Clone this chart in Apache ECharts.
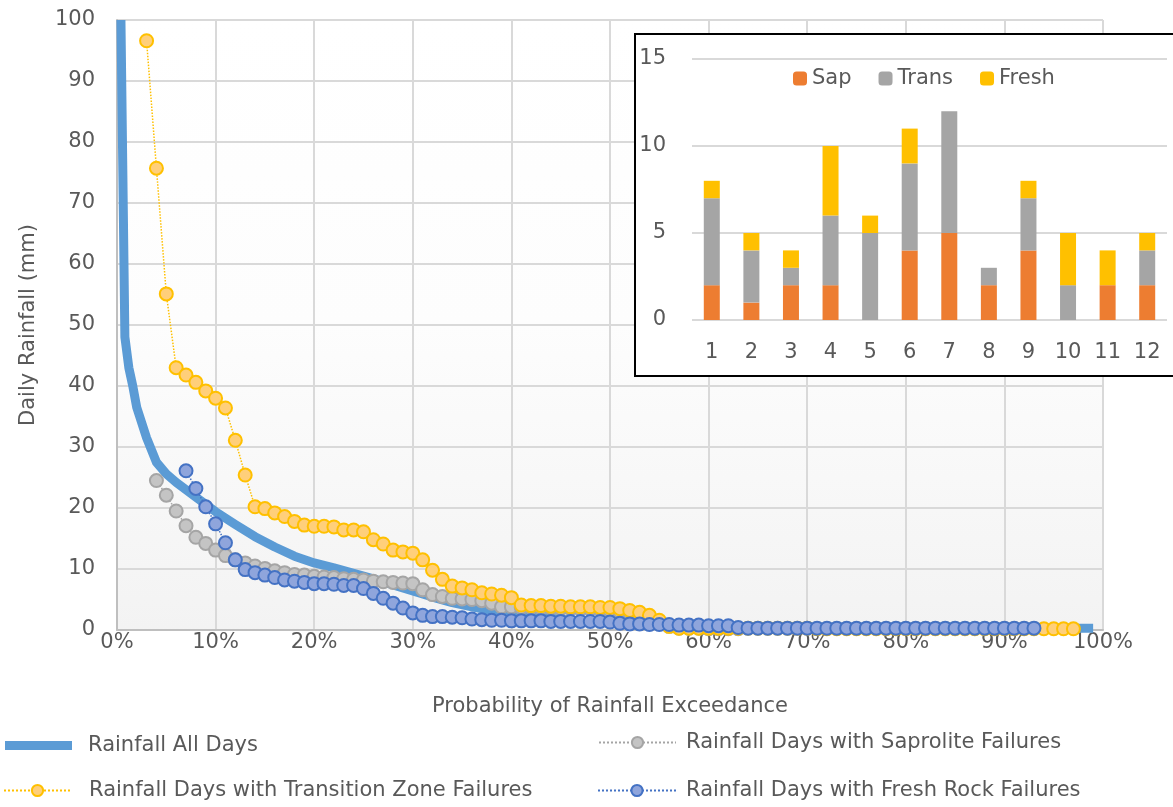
<!DOCTYPE html>
<html>
<head>
<meta charset="utf-8">
<title>Rainfall Exceedance</title>
<script src="https://cdn.jsdelivr.net/npm/echarts@6/dist/echarts.min.js"></script>
<style>
  body { margin: 0; background: #fff; }
  #chart { width: 1173px; height: 807px; }
</style>
</head>
<body>
<div id="chart"></div>
<script>
// all days: probability (%) and rainfall (mm)
var allProb = [0.4, 0.8, 1.2, 1.6, 2, 3, 4, 5, 6, 8, 10, 12, 14, 16, 18, 20, 22, 24, 26, 28, 30, 32, 34, 36, 38, 40, 43, 46, 50, 54, 58, 62, 66, 70, 80, 90, 99];
var allRain = [100, 48, 43, 40, 36.5, 31.5, 27.5, 25.6, 24.2, 21.8, 19.4, 17.3, 15.3, 13.6, 12.1, 11.0, 10.2, 9.3, 8.4, 7.4, 6.4, 5.4, 4.5, 3.8, 3.2, 2.7, 2.1, 1.6, 1.2, 0.8, 0.5, 0.4, 0.3, 0.3, 0.3, 0.3, 0.3];

// saprolite failure days
var sapProb = [4, 5, 6, 7, 8, 9, 10, 11, 12, 13, 14, 15, 16, 17, 18, 19, 20, 21, 22, 23, 24, 25, 26, 27, 28, 29, 30, 31, 32, 33,
  34, 35, 36, 37, 38, 39, 40, 41, 42, 43, 44, 45, 46, 47, 48, 49, 50, 51, 52, 53, 54, 55, 56, 57, 58, 59, 60, 61, 62, 63];
var sapRain = [24.5, 22.1, 19.5, 17.1, 15.2, 14.2, 13.1, 12.2, 11.5, 11.0, 10.5, 10.1, 9.7, 9.4, 9.1, 9.0, 8.8, 8.7, 8.6, 8.4,
  8.3, 8.2, 8.0, 7.9, 7.8, 7.7, 7.6, 6.6, 5.8, 5.5, 5.2, 5.1, 5.0, 4.8, 4.4, 3.8, 3.8, 3.7, 3.7, 3.6, 3.6, 3.5, 3.5, 3.4, 3.4, 3.3,
  3.2, 3.0, 2.8, 2.5, 2.0, 1.2, 0.6, 0.3, 0.3, 0.3, 0.2, 0.2, 0.2, 0.2];

// transition zone failure days
var transProb = [3, 4, 5, 6, 7, 8, 9, 10, 11, 12, 13, 14, 15, 16, 17, 18, 19, 20, 21, 22, 23, 24, 25, 26, 27, 28, 29, 30, 31, 32,
  33, 34, 35, 36, 37, 38, 39, 40, 41, 42, 43, 44, 45, 46, 47, 48, 49, 50, 51, 52, 53, 54, 55, 56, 57, 58, 59, 60, 61, 62,
  63, 64, 65, 66, 67, 68, 69, 70, 71, 72, 73, 74, 75, 76, 77, 78, 79, 80, 81, 82, 83, 84, 85, 86, 87, 88, 89, 90, 91, 92,
  93, 94, 95, 96, 97];
var transRain = [96.6, 75.7, 55.1, 43.0, 41.8, 40.6, 39.2, 38.0, 36.4, 31.1, 25.4, 20.2, 19.9, 19.2, 18.6, 17.8, 17.2, 17.0, 17.0, 16.9,
  16.4, 16.4, 16.1, 14.8, 14.1, 13.1, 12.8, 12.6, 11.5, 9.8, 8.3, 7.2, 6.9, 6.6, 6.1, 5.9, 5.7, 5.3, 4.1, 4.0,
  4.0, 3.9, 3.9, 3.8, 3.8, 3.8, 3.7, 3.7, 3.5, 3.2, 2.9, 2.4, 1.6, 0.6, 0.3, 0.3, 0.3, 0.3, 0.3, 0.3,
  0.3, 0.3, 0.3, 0.3, 0.3, 0.3, 0.3, 0.3, 0.2, 0.2, 0.2, 0.2, 0.2, 0.2, 0.2, 0.2, 0.2, 0.2, 0.2, 0.2,
  0.2, 0.2, 0.2, 0.2, 0.2, 0.2, 0.2, 0.2, 0.2, 0.2, 0.2, 0.2, 0.2, 0.2, 0.2];

// fresh rock failure days
var freshProb = [7, 8, 9, 10, 11, 12, 13, 14, 15, 16, 17, 18, 19, 20, 21, 22, 23, 24, 25, 26, 27, 28, 29, 30, 31, 32, 33, 34, 35, 36,
  37, 38, 39, 40, 41, 42, 43, 44, 45, 46, 47, 48, 49, 50, 51, 52, 53, 54, 55, 56, 57, 58, 59, 60, 61, 62, 63, 64, 65, 66,
  67, 68, 69, 70, 71, 72, 73, 74, 75, 76, 77, 78, 79, 80, 81, 82, 83, 84, 85, 86, 87, 88, 89, 90, 91, 92, 93];
var freshRain = [26.1, 23.2, 20.2, 17.4, 14.3, 11.5, 9.9, 9.4, 9.0, 8.6, 8.2, 8.0, 7.8, 7.6, 7.6, 7.5, 7.3, 7.3, 6.8, 6.0,
  5.2, 4.4, 3.6, 2.8, 2.4, 2.2, 2.2, 2.1, 2.0, 1.8, 1.7, 1.6, 1.6, 1.5, 1.5, 1.5, 1.5, 1.4, 1.4, 1.4,
  1.4, 1.4, 1.4, 1.3, 1.1, 1.0, 1.0, 0.9, 0.9, 0.9, 0.8, 0.8, 0.8, 0.7, 0.7, 0.7, 0.4, 0.3, 0.3, 0.3,
  0.3, 0.3, 0.3, 0.3, 0.3, 0.3, 0.3, 0.3, 0.3, 0.3, 0.3, 0.3, 0.3, 0.3, 0.3, 0.3, 0.3, 0.3, 0.3, 0.3,
  0.3, 0.3, 0.3, 0.3, 0.3, 0.3, 0.3];

// inset: failures per month
var months = ['1', '2', '3', '4', '5', '6', '7', '8', '9', '10', '11', '12'];
var sapCount = [2, 1, 2, 2, 0, 4, 5, 2, 4, 0, 2, 2];
var transCount = [5, 3, 1, 4, 5, 5, 7, 1, 3, 2, 0, 2];
var freshCount = [1, 1, 1, 4, 1, 2, 0, 0, 1, 3, 2, 1];

function pairs(xs, ys) {
    return xs.map(function (x, i) { return [x, ys[i]]; });
}

var font = 'DejaVu Sans';
var fs = 21;
var grey = '#595959';

var myChart = echarts.init(document.getElementById('chart'));

function dotSeries(name, xs, ys, line, fill, border) {
    return {
        name: name,
        type: 'line',
        xAxisIndex: 0, yAxisIndex: 0,
        data: pairs(xs, ys),
        symbol: 'circle',
        symbolSize: 13,
        showSymbol: true,
        lineStyle: { color: line, width: 1.5, type: 'dotted' },
        itemStyle: { color: fill, borderColor: border, borderWidth: 2 },
        emphasis: { disabled: true },
        z: 2
    };
}

function legendFor(name, left, top, width, pad) {
    return {
        data: [name],
        left: left, top: top,
        padding: 0,
        itemWidth: width, itemHeight: 14,
        textStyle: { fontFamily: font, fontSize: fs, color: grey, padding: [0, 0, 0, pad] }
    };
}

// 全天降雨图例用粗条
var allLegend = legendFor('Rainfall All Days', 5, 735, 67, 11);
allLegend.icon = 'rect';
allLegend.itemHeight = 9;

myChart.setOption({
    animation: false,
    textStyle: { fontFamily: font },
    grid: [
        {
            left: 117, top: 20, width: 986, height: 610,
            show: true, borderWidth: 0,
            backgroundColor: new echarts.graphic.LinearGradient(0, 0, 0, 1, [
                { offset: 0, color: '#ffffff' },
                { offset: 0.5, color: '#fdfdfd' },
                { offset: 1, color: '#f3f3f3' }
            ])
        },
        { left: 692, top: 59, width: 475, height: 261 }
    ],
    graphic: [{
        type: 'rect',
        z: 10,
        shape: { x: 635, y: 34, width: 560, height: 342 },
        style: { fill: '#ffffff', stroke: '#000000', lineWidth: 2 }
    }],
    legend: [
        allLegend,
        legendFor('Rainfall Days with Saprolite Failures', 598, 732, 77, 5),
        legendFor('Rainfall Days with Transition Zone Failures', 3, 780, 67, 13),
        legendFor('Rainfall Days with Fresh Rock Failures', 597, 780, 78, 5),
        {
            data: ['Sap', 'Trans', 'Fresh'],
            left: 793, top: 68, padding: 0, z: 20,
            itemWidth: 14, itemHeight: 14, itemGap: 27,
            textStyle: { fontFamily: font, fontSize: fs, color: grey }
        }
    ],
    xAxis: [
        {
            type: 'value', gridIndex: 0,
            min: 0, max: 100, interval: 10,
            name: 'Probability of Rainfall Exceedance',
            nameLocation: 'middle', nameGap: 66,
            nameTextStyle: { fontFamily: font, fontSize: fs, color: grey },
            axisLine: { show: true, lineStyle: { color: '#bfbfbf', width: 2 } },
            axisTick: { show: false },
            axisLabel: { formatter: '{value}%', fontFamily: font, fontSize: fs, color: grey, margin: 2 },
            splitLine: { show: true, lineStyle: { color: '#d9d9d9', width: 2 } }
        },
        {
            type: 'category', gridIndex: 1, z: 15,
            data: months,
            axisLine: { show: false },
            axisTick: { show: false },
            axisLabel: { fontFamily: font, fontSize: fs, color: grey, margin: 22 }
        }
    ],
    yAxis: [
        {
            type: 'value', gridIndex: 0,
            min: 0, max: 100, interval: 10,
            name: 'Daily Rainfall (mm)',
            nameLocation: 'middle', nameGap: 78,
            nameTextStyle: { fontFamily: font, fontSize: fs, color: grey },
            axisLine: { show: true, lineStyle: { color: '#bfbfbf', width: 2 } },
            axisTick: { show: false },
            axisLabel: { fontFamily: font, fontSize: fs, color: grey, margin: 22 },
            splitLine: { show: true, lineStyle: { color: '#d9d9d9', width: 2 } }
        },
        {
            type: 'value', gridIndex: 1, z: 15,
            min: 0, max: 15, interval: 5,
            axisLine: { show: false },
            axisTick: { show: false },
            axisLabel: { fontFamily: font, fontSize: fs, color: grey, margin: 26 },
            splitLine: { show: true, lineStyle: { color: '#d9d9d9', width: 2 } }
        }
    ],
    series: [
        {
            name: 'Rainfall All Days',
            type: 'line',
            data: pairs(allProb, allRain),
            symbol: 'none',
            lineStyle: { color: '#5b9bd5', width: 9, join: 'round' },
            itemStyle: { color: '#5b9bd5' },
            emphasis: { disabled: true },
            z: 2
        },
        dotSeries('Rainfall Days with Saprolite Failures', sapProb, sapRain, '#a5a5a5', '#c4c4c4', '#a5a5a5'),
        dotSeries('Rainfall Days with Transition Zone Failures', transProb, transRain, '#ffc000', '#ffcf7a', '#ffc000'),
        dotSeries('Rainfall Days with Fresh Rock Failures', freshProb, freshRain, '#4472c4', '#8fa5dc', '#4472c4'),
        {
            name: 'Sap', type: 'bar', stack: 'm', xAxisIndex: 1, yAxisIndex: 1,
            data: sapCount, barWidth: 16, itemStyle: { color: '#ed7d31' }, z: 20
        },
        {
            name: 'Trans', type: 'bar', stack: 'm', xAxisIndex: 1, yAxisIndex: 1,
            data: transCount, barWidth: 16, itemStyle: { color: '#a5a5a5' }, z: 20
        },
        {
            name: 'Fresh', type: 'bar', stack: 'm', xAxisIndex: 1, yAxisIndex: 1,
            data: freshCount, barWidth: 16, itemStyle: { color: '#ffc000' }, z: 20
        }
    ]
});
</script>
</body>
</html>
